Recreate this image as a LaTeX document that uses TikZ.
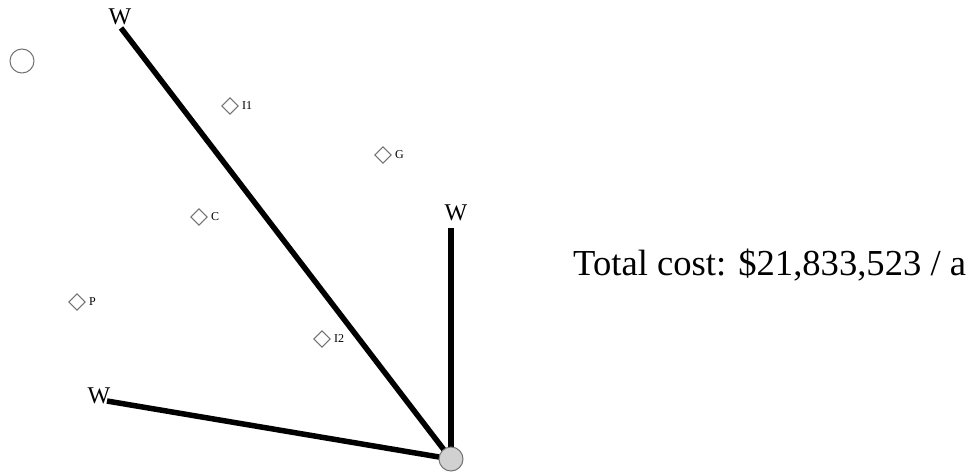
\documentclass[tikz,border=0pt]{standalone}
\usepackage{fontspec}
\setmainfont{Liberation Serif}
\begin{document}
\begin{tikzpicture}[x=1pt,y=-1pt,
  site/.style={draw=gray!90!black,line width=1pt,rotate=45,minimum size=11.5pt,inner sep=0pt},
  lbl/.style={font=\fontsize{12}{13}\selectfont,inner sep=0pt,anchor=west},
  wlbl/.style={font=\fontsize{24}{25}\selectfont,inner sep=0pt},
  pipe/.style={line width=5.5pt,black},
  hubnode/.style={circle,draw=gray!90!black,line width=1pt,fill=black!18,minimum size=24pt,inner sep=0pt},
  opennode/.style={circle,draw=gray!90!black,line width=1pt,minimum size=24pt,inner sep=0pt}]
\useasboundingbox (0,0) rectangle (974,474);
% open circle
\node[opennode] (oc) at (22,61) {};
% line endpoints and W labels
\coordinate (hubc) at (451,459);
\coordinate (e1) at (121,28);
\coordinate (e2) at (451,228);
\coordinate (e3) at (107,401);
\node[wlbl] (w1) at (120,17) {W};
\node[wlbl] (w2) at (456,213) {W};
\node[wlbl] (w3) at (99,396) {W};
\draw[pipe] (e1) -- (hubc);
\draw[pipe] (e2) -- (hubc);
\draw[pipe] (e3) -- (hubc);
\node[hubnode] (hub) at (hubc) {};
% sites
\node[site] (i1) at (230,106) {};
\node[lbl] (li1) at (242,106) {I1};
\node[site] (g) at (383,155) {};
\node[lbl] (lg) at (395,155) {G};
\node[site] (c) at (199,217) {};
\node[lbl] (lc) at (211,217) {C};
\node[site] (p) at (77,302) {};
\node[lbl] (lp) at (89,302) {P};
\node[site] (i2) at (322,339) {};
\node[lbl] (li2) at (334,339) {I2};
% total cost
\node[font=\fontsize{36.6}{40}\selectfont,inner sep=0pt,anchor=west] (tc) at (573,265) {Total cost: \$21,833,523 / a};
\end{tikzpicture}
\end{document}
